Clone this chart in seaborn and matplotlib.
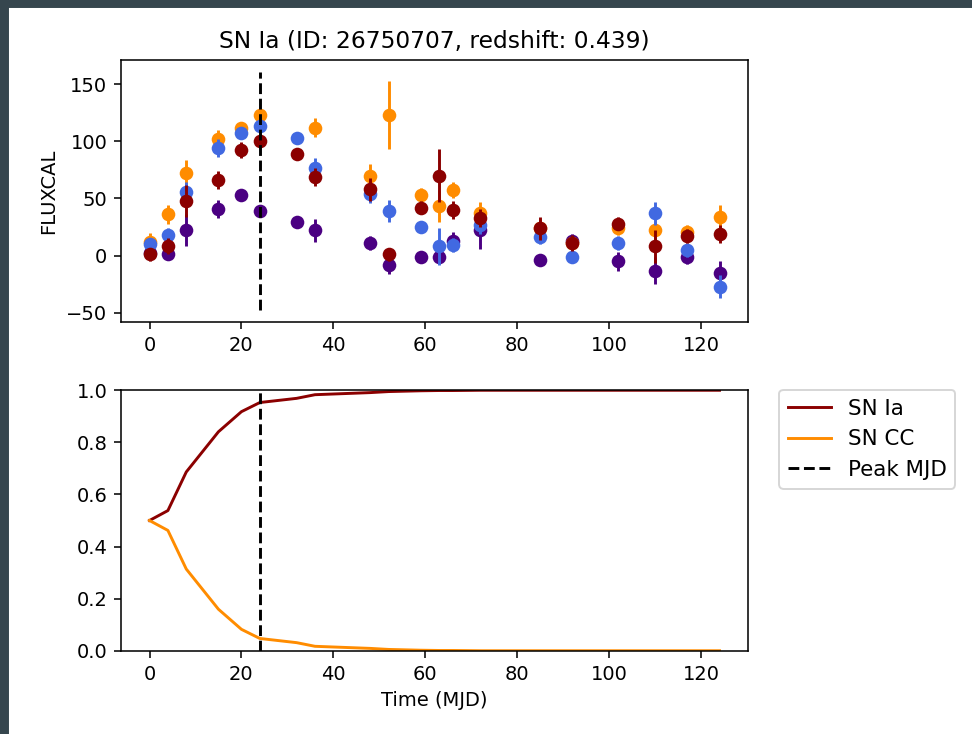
import numpy as np
import pandas as pd
import matplotlib
matplotlib.use("Agg")
import matplotlib.pyplot as plt
from matplotlib.patches import Rectangle
import seaborn as sns

# ---- data ----
times = [0, 4, 8, 15, 20, 24, 32, 36, 48, 52, 59, 63, 66, 72, 85, 92, 102, 110, 117, 124]

flux_orange = [12, 36, 72, 102, 112, 123, np.nan, 112, 70, 123, 53, 43, 57, 37, 24, 11, 24, 22, 21, 34]
err_orange  = [8, 8, 12, 8, 5, 5, np.nan, 8, 10, 30, 6, 14, 7, 10, 8, 6, 6, 8, 6, 10]

flux_blue = [10, 18, 56, 94, 107, 113, 103, 77, 54, 39, 25, 8, 9, 27, 16, -1, 11, 37, 5, -27]
err_blue  = [5, 6, 8, 8, 5, 5, 5, 8, 8, 10, 5, 16, 6, 8, 6, 5, 6, 10, 6, 10]

flux_darkred = [1, 8, 48, 66, 92, 100, 89, 69, 58, 1, 42, 70, 40, 33, 24, 11, 28, 8, 17, 19]
err_darkred  = [6, 7, 14, 8, 7, 6, 5, 8, 10, 6, 6, 23, 8, 8, 10, 7, 6, 14, 6, 8]

flux_indigo = [2, 1, 22, 41, 53, 39, 29, 22, 11, -8, -1, -1, 13, 22, -4, 13, -5, -13, -1, -15]
err_indigo  = [5, 5, 14, 8, 5, 5, 5, 10, 6, 8, 5, 5, 8, 16, 5, 6, 8, 12, 6, 10]

prob_ia = [0.50, 0.538, 0.686, 0.84, 0.917, 0.952, 0.968, 0.982, 0.99, 0.994, 0.997, 0.998,
           0.998, 0.999, 0.999, 0.999, 0.999, 0.999, 0.999, 0.999]
prob_cc = [0.50, 0.462, 0.314, 0.16, 0.083, 0.048, 0.032, 0.018, 0.01, 0.006, 0.003, 0.002,
           0.002, 0.001, 0.001, 0.001, 0.001, 0.001, 0.001, 0.001]

peak_mjd = 24
peak_line_range = [-47.6, 160.6]

title = "SN Ia (ID: 26750707, redshift: 0.439)"
class_labels = ["SN Ia", "SN CC"]

# ---- style ----
plt.rcParams.update(matplotlib.rcParamsDefault)
plt.rcParams['font.family'] = ['DejaVu Sans']

DPI = 140
fig = plt.figure(figsize=(972 / DPI, 734 / DPI), dpi=DPI)
W, H = 972, 734

def frac(x0, y0, x1, y1):
    return [x0 / W, 1 - y1 / H, (x1 - x0) / W, (y1 - y0) / H]

# dark frame strips (screenshot border)
fig.patches.append(Rectangle((0, 1 - 7 / H), 1, 7 / H, transform=fig.transFigure,
                             color="#36464e", zorder=0))
fig.patches.append(Rectangle((0, 0), 8 / W, 1, transform=fig.transFigure,
                             color="#36464e", zorder=0))

ax1 = fig.add_axes(frac(121, 60, 748, 322))
ax2 = fig.add_axes(frac(121, 390, 748, 651))

bands = [
    ("indigo", flux_indigo, err_indigo),
    ("darkorange", flux_orange, err_orange),
    ("royalblue", flux_blue, err_blue),
    ("darkred", flux_darkred, err_darkred),
]
for i, (col, fl, er) in enumerate(bands):
    df = pd.DataFrame({"t": times, "flux": fl, "err": er}).dropna()
    ax1.errorbar(df["t"], df["flux"], yerr=df["err"], fmt="none", ecolor=col,
                 elinewidth=1.5, zorder=2 + 2 * i)
    sns.scatterplot(data=df, x="t", y="flux", color=col, s=49, linewidth=0,
                    ax=ax1, zorder=3 + 2 * i, legend=False)

ax1.vlines(peak_mjd, peak_line_range[0], peak_line_range[1], colors="k",
           linestyles="--", zorder=20)
ax1.set_xlabel("")
ax1.set_ylabel("FLUXCAL")
ax1.set_title(title, fontsize=12)
ax1.set_xticks([0, 20, 40, 60, 80, 100, 120])
ax1.set_yticks([-50, 0, 50, 100, 150])

dfp = pd.DataFrame({"t": times, "ia": prob_ia, "cc": prob_cc})
sns.lineplot(data=dfp, x="t", y="ia", color="darkred", ax=ax2, label=class_labels[0])
sns.lineplot(data=dfp, x="t", y="cc", color="darkorange", ax=ax2, label=class_labels[1])
ax2.axvline(peak_mjd, color="k", linestyle="--", label="Peak MJD")
ax2.set_ylim(0, 1)
ax2.set_xlim(ax1.get_xlim())
ax2.set_xticks([0, 20, 40, 60, 80, 100, 120])
ax2.set_ylabel("")
ax2.set_xlabel("Time (MJD)")
ax2.legend(loc="upper left", bbox_to_anchor=(1.05, 1.0), borderaxespad=0, fontsize=11)

fig.savefig("out.png", dpi=DPI)
